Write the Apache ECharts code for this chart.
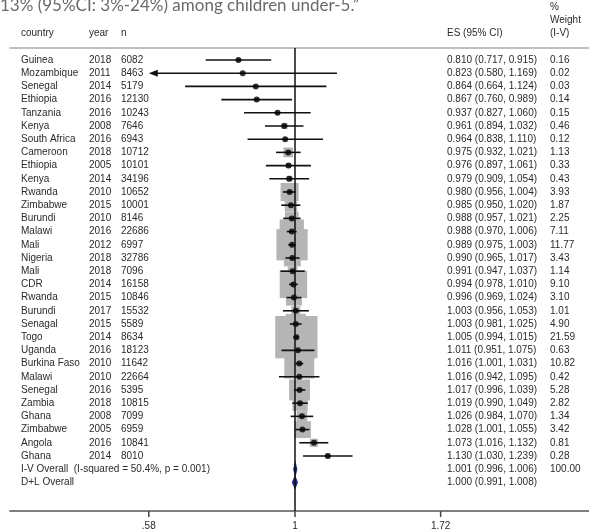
<!DOCTYPE html>
<html><head><meta charset="utf-8">
<script src="https://cdn.jsdelivr.net/npm/echarts@6/dist/echarts.min.js"></script>
<style>html,body{margin:0;padding:0;background:#fff}#c{width:589px;height:530px}</style>
</head><body><div id="c"></div>
<script>
// ---- data ----
const countries = ['Guinea','Mozambique','Senegal','Ethiopia','Tanzania','Kenya','South Africa','Cameroon','Ethiopia','Kenya','Rwanda','Zimbabwe','Burundi','Malawi','Mali','Nigeria','Mali','CDR','Rwanda','Burundi','Senagal','Togo','Uganda','Burkina Faso','Malawi','Senegal','Zambia','Ghana','Zimbabwe','Angola','Ghana'];
const years = [2018,2011,2014,2016,2016,2008,2016,2018,2005,2014,2010,2015,2010,2016,2012,2018,2018,2014,2015,2017,2015,2014,2016,2010,2010,2016,2018,2008,2005,2016,2014];
const sampleSizes = [6082,8463,5179,12130,10243,7646,6943,10712,10101,34196,10652,10001,8146,22686,6997,32786,7096,16158,10846,15532,5589,8634,18123,11642,22664,5395,10815,7099,6959,10841,8010];
const es = [0.810,0.823,0.864,0.867,0.937,0.961,0.964,0.975,0.976,0.979,0.980,0.985,0.988,0.988,0.989,0.990,0.991,0.994,0.996,1.003,1.003,1.005,1.011,1.016,1.016,1.017,1.019,1.026,1.028,1.073,1.130];
const ciLow = [0.717,0.580,0.664,0.760,0.827,0.894,0.838,0.932,0.897,0.909,0.956,0.950,0.957,0.970,0.975,0.965,0.947,0.978,0.969,0.956,0.981,0.994,0.951,1.001,0.942,0.996,0.990,0.984,1.001,1.016,1.030];
const ciHigh = [0.915,1.169,1.124,0.989,1.060,1.032,1.110,1.021,1.061,1.054,1.004,1.020,1.021,1.006,1.003,1.017,1.037,1.010,1.024,1.053,1.025,1.015,1.075,1.031,1.095,1.039,1.049,1.070,1.055,1.132,1.239];
const weights = [0.16,0.02,0.03,0.14,0.15,0.46,0.12,1.13,0.33,0.43,3.93,1.87,2.25,7.11,11.77,3.43,1.14,9.10,3.10,1.01,4.90,21.59,0.63,10.82,0.42,5.28,2.82,1.34,3.42,0.81,0.28];
const overallLabels = ['I-V Overall  (I-squared = 50.4%, p = 0.001)', 'D+L Overall'];
const overallES = [1.001, 1.000];
const overallLow = [0.996, 0.991];
const overallHigh = [1.006, 1.008];
const overallWeights = [100.00, null];
const tickValues = [0.58, 1, 1.72];
const tickLabels = ['.58', '1', '1.72'];
const refValue = 1;
const titleText = '13% (95%CI: 3%-24%) among children under-5.\u201D';

// ---- layout / style ----
const FONT = "10px 'Liberation Sans', Arial, sans-serif";
const TXT = '#2a2a2a';
const COL = {country: 21, year: 89, n: 121, es: 447, w: 550};
const nStudies = es.length;
const fmt3 = v => v.toFixed(3);
const esText = (e, l, h) => fmt3(e) + ' (' + fmt3(l) + ', ' + fmt3(h) + ')';

const chart = echarts.init(document.getElementById('c'), null, {renderer: 'canvas'});

const studyRows = es.map((v, i) => [i, v, ciLow[i], ciHigh[i]]);
const overallRows = overallES.map((v, j) => [nStudies + j, v, overallLow[j], overallHigh[j]]);

const option = {
  animation: false,
  backgroundColor: '#fff',
  grid: {left: 10, right: 0, top: 48, bottom: 19},
  xAxis: [{
    type: 'log', logBase: Math.E, min: 0.3459, max: 2.989, position: 'bottom',
    axisLine: {show: true, onZero: false, lineStyle: {color: '#555', width: 1.7}},
    axisTick: {show: false}, axisLabel: {show: false}, splitLine: {show: false}
  }, {
    type: 'log', logBase: Math.E, min: 0.3459, max: 2.989, position: 'top',
    axisLine: {show: true, onZero: false, lineStyle: {color: '#aaa', width: 1.6}},
    axisTick: {show: false}, axisLabel: {show: false}, splitLine: {show: false}
  }],
  yAxis: {
    type: 'value', inverse: true, min: -0.909, max: 34.17, show: false
  },
  graphic: [
    {type: 'text', left: 0, top: -3, style: {text: titleText, font: "17px Lato, 'Open Sans', sans-serif", fill: '#6a6a6a'}},
    {type: 'text', x: COL.country, y: 33, style: {text: 'country', font: FONT, fill: TXT, verticalAlign: 'middle'}},
    {type: 'text', x: COL.year, y: 33, style: {text: 'year', font: FONT, fill: TXT, verticalAlign: 'middle'}},
    {type: 'text', x: COL.n, y: 33, style: {text: 'n', font: FONT, fill: TXT, verticalAlign: 'middle'}},
    {type: 'text', x: COL.es, y: 33, style: {text: 'ES (95% CI)', font: FONT, fill: TXT, verticalAlign: 'middle'}},
    {type: 'text', x: COL.w, y: 7, style: {text: '%', font: FONT, fill: TXT, verticalAlign: 'middle'}},
    {type: 'text', x: COL.w, y: 20, style: {text: 'Weight', font: FONT, fill: TXT, verticalAlign: 'middle'}},
    {type: 'text', x: COL.w, y: 33, style: {text: '(I-V)', font: FONT, fill: TXT, verticalAlign: 'middle'}}
  ],
  series: [
    { // axis ticks + labels, reference line
      type: 'custom', z: 0, silent: true,
      data: tickValues.map((v, k) => [v, k]),
      renderItem: (params, api) => {
        const v = api.value(0);
        const k = api.value(1);
        const cs = params.coordSys;
        const x = api.coord([v, 0])[0];
        const yb = cs.y + cs.height;
        return {type: 'group', children: [
          {type: 'line', shape: {x1: x, y1: yb, x2: x, y2: yb + 6}, style: {stroke: '#444', lineWidth: 1.5}},
          {type: 'text', x: x, y: yb + 10, style: {text: tickLabels[k], font: FONT, fill: TXT, align: 'center', verticalAlign: 'top'}}
        ]};
      },
      markLine: {
        silent: true, symbol: 'none', label: {show: false},
        lineStyle: {color: '#111', width: 1.5, type: 'solid'},
        data: [{xAxis: refValue}]
      }
    },
    { // weight boxes
      type: 'scatter', z: 1, silent: true,
      data: es.map((v, i) => [v, i, weights[i]]),
      symbol: 'rect',
      symbolSize: d => 9.1 * Math.sqrt(d[2]),
      itemStyle: {color: '#b5b5b5', opacity: 1}
    },
    { // CI lines
      type: 'custom', z: 2, silent: true,
      data: studyRows,
      renderItem: (params, api) => {
        const i = api.value(0);
        const l = api.value(2), h = api.value(3);
        const lo = Math.max(l, tickValues[0]);
        const hi = Math.min(h, tickValues[tickValues.length - 1]);
        const p1 = api.coord([lo, i]);
        const p2 = api.coord([hi, i]);
        const kids = [];
        let xStart = p1[0];
        if (l <= tickValues[0]) {
          kids.push({type: 'polygon', shape: {points: [[p1[0], p1[1]], [p1[0] + 9, p1[1] - 3.5], [p1[0] + 9, p1[1] + 3.5]]}, style: {fill: '#111'}});
          xStart = p1[0] + 6;
        }
        kids.push({type: 'line', shape: {x1: xStart, y1: p1[1], x2: p2[0], y2: p2[1]}, style: {stroke: '#111', lineWidth: 1.6}});
        return {type: 'group', children: kids};
      }
    },
    { // point estimates
      type: 'scatter', z: 3, silent: true,
      data: es.map((v, i) => [v, i]),
      symbol: 'circle', symbolSize: 6,
      itemStyle: {color: '#000'}
    },
    { // overall diamonds
      type: 'custom', z: 3, silent: true,
      data: overallRows,
      renderItem: (params, api) => {
        const r = api.value(0);
        const pe = api.coord([api.value(1), r]);
        const pl = api.coord([api.value(2), r]);
        const ph = api.coord([api.value(3), r]);
        return {type: 'polygon', shape: {points: [[pl[0], pe[1]], [pe[0], pe[1] - 5.5], [ph[0], pe[1]], [pe[0], pe[1] + 5.5]]},
          style: {fill: '#1f2d86', stroke: '#1f2d86', lineWidth: 1.5}};
      }
    },
    { // row texts
      type: 'custom', z: 4, silent: true,
      data: studyRows.concat(overallRows),
      renderItem: (params, api) => {
        const r = api.value(0);
        const y = api.coord([1, r])[1];
        const st = t => ({text: t, font: FONT, fill: TXT, verticalAlign: 'middle'});
        const kids = [];
        if (r < nStudies) {
          kids.push({type: 'text', x: COL.country, y: y, style: st(countries[r])});
          kids.push({type: 'text', x: COL.year, y: y, style: st(String(years[r]))});
          kids.push({type: 'text', x: COL.n, y: y, style: st(String(sampleSizes[r]))});
          kids.push({type: 'text', x: COL.es, y: y, style: st(esText(es[r], ciLow[r], ciHigh[r]))});
          kids.push({type: 'text', x: COL.w, y: y, style: st(weights[r].toFixed(2))});
        } else {
          const j = r - nStudies;
          kids.push({type: 'text', x: COL.country, y: y, style: st(overallLabels[j])});
          kids.push({type: 'text', x: COL.es, y: y, style: st(esText(overallES[j], overallLow[j], overallHigh[j]))});
          if (overallWeights[j] != null) kids.push({type: 'text', x: COL.w, y: y, style: st(overallWeights[j].toFixed(2))});
        }
        return {type: 'group', children: kids};
      }
    }
  ]
};
chart.setOption(option);
</script>
</body></html>
